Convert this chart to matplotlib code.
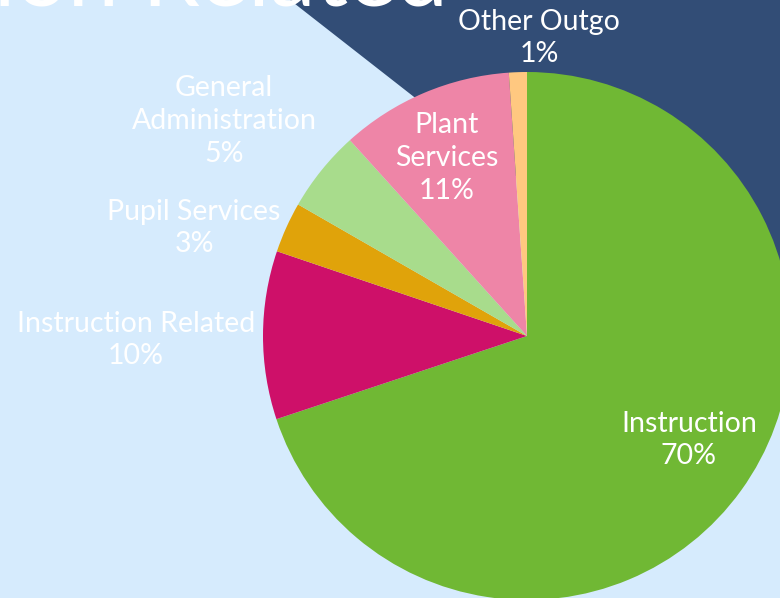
import matplotlib
matplotlib.use("Agg")
import matplotlib.pyplot as plt
from matplotlib.patches import Polygon

categories = ["Instruction", "Instruction Related", "Pupil Services",
              "General Administration", "Plant Services", "Other Outgo"]
display_labels = ["Instruction", "Instruction Related", "Pupil Services",
                  "General\nAdministration", "Plant\nServices", "Other Outgo"]
values = [69.9, 10.3, 3.1, 5.0, 10.6, 1.1]
colors = ["#70B834", "#CE1069", "#E0A30A", "#A8DC8C", "#EE85A7", "#FFC880"]
title = "Instruction Related"

# label centre positions in pixels (x, y from top)
label_pos = [(689, 440), (136, 340), (194, 228), (224, 121), (447, 158), (539, 38)]

W, H = 780, 598
fig = plt.figure(figsize=(W / 100, H / 100), dpi=100)
fig.patch.set_facecolor("#D6EBFD")

bg = fig.add_axes([0, 0, 1, 1])
bg.set_xlim(0, W)
bg.set_ylim(H, 0)
bg.axis("off")
bg.add_patch(Polygon([(290, 0), (W, 0), (W, 383)], closed=True,
                     facecolor="#324D76", edgecolor="none"))
bg.text(448, 6, title, ha="right", va="baseline", color="white",
        fontsize=66, family="Lato")

cx, cy, r = 527, 336, 264
ax = fig.add_axes([(cx - r) / W, (H - cy - r) / H, 2 * r / W, 2 * r / H])
ax.set_facecolor("none")
ax.pie(values, colors=colors, startangle=90, counterclock=False, radius=1,
       wedgeprops=dict(linewidth=0))
ax.set_xlim(-1, 1)
ax.set_ylim(-1, 1)
ax.set_aspect("equal")
ax.axis("off")

total = sum(values)
for lab, v, (px, py) in zip(display_labels, values, label_pos):
    fig.text(px / W, 1 - py / H, f"{lab}\n{round(v / total * 100):.0f}%",
             ha="center", va="center", color="white", fontsize=20.5,
             family="Lato", linespacing=1.32)

fig.savefig("out.png", dpi=100, facecolor=fig.get_facecolor())
